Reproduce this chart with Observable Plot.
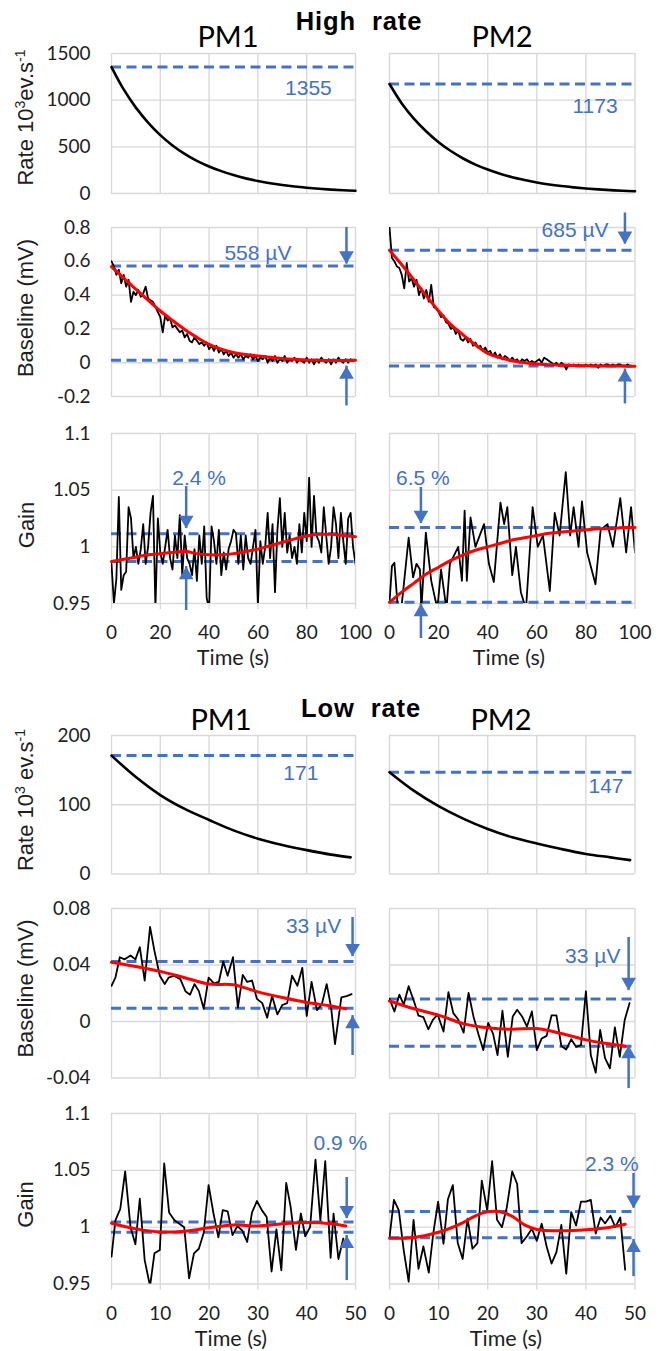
<!DOCTYPE html>
<html><head><meta charset="utf-8">
<script src="https://cdn.jsdelivr.net/npm/d3@7"></script>
<script src="https://cdn.jsdelivr.net/npm/@observablehq/plot@0.6"></script>
<style>
html,body{margin:0;padding:0;background:#fff;}
#root{position:relative;width:662px;height:1351px;overflow:hidden;background:#fff;}
</style></head>
<body><div id="root"></div>
<script>
// ================= DATA =================
// ---- High rate (time in s, 0–100) ----
const hrFitTime = [0,5,10,15,20,25,30,35,40,45,50,55,60,65,70,75,80,85,90,95,100];
const hrRatePM1 = [1355,1115,920,760,625,515,425,350,290,240,197,162,134,110,91,75,62,51,42,35,29];
const hrRatePM2 = [1173,965,800,665,550,455,375,310,257,212,175,145,118,97,80,66,54,44,36,29,24];
const hrRateRef = [1355, 1173];

const hrBaseFitPM1 = [0.568,0.5,0.435,0.37,0.306,0.25,0.197,0.15,0.109,0.08,0.06,0.048,0.04,0.032,0.025,0.02,0.016,0.014,0.013,0.013,0.014];
const hrBaseFitPM2 = [0.665,0.58,0.49,0.395,0.306,0.225,0.165,0.105,0.055,0.03,0.012,0.0,-0.008,-0.012,-0.014,-0.016,-0.018,-0.019,-0.02,-0.02,-0.021];
const hrBaseBandPM1 = [0.572, 0.014];
const hrBaseBandPM2 = [0.665, -0.02];

const hrSampleTime = d3.range(0, 101); // one sample per second
const hrBasePM1 = [0.60,0.57,0.52,0.55,0.47,0.52,0.45,0.49,0.36,0.42,
 0.40,0.43,0.39,0.41,0.45,0.38,0.37,0.36,0.33,0.30,
 0.27,0.18,0.28,0.25,0.26,0.21,0.22,0.20,0.18,0.19,
 0.15,0.17,0.13,0.12,0.15,0.13,0.11,0.12,0.10,0.12,
 0.08,0.10,0.07,0.10,0.06,0.08,0.05,0.07,0.04,0.06,
 0.03,0.05,0.03,0.05,0.02,0.04,0.03,0.05,0.02,0.04,
 0.01,0.03,0.02,0.04,0.00,0.03,0.01,0.04,0.00,0.02,
 0.01,0.04,0.00,0.02,0.01,0.03,0.00,0.02,0.01,0.00,
 0.03,0.00,0.02,-0.01,0.02,0.00,0.03,0.01,0.00,0.02,
 -0.01,0.02,0.00,0.03,0.01,0.00,0.02,0.00,0.02,0.01,
 0.02];
const hrBasePM2 = [0.80,0.62,0.60,0.57,0.56,0.52,0.44,0.59,0.48,0.50,
 0.45,0.49,0.40,0.44,0.38,0.43,0.36,0.46,0.33,0.32,
 0.30,0.27,0.28,0.24,0.23,0.20,0.21,0.17,0.19,0.14,
 0.13,0.15,0.12,0.14,0.10,0.12,0.09,0.10,0.07,0.09,
 0.06,0.07,0.04,0.06,0.03,0.05,0.02,0.04,0.03,0.01,
 0.03,0.01,0.02,0.00,0.02,0.01,0.02,0.00,0.01,0.00,
 0.01,0.02,0.00,0.03,0.02,0.01,0.00,-0.01,0.00,-0.02,
 0.00,-0.01,-0.04,-0.01,-0.02,-0.01,-0.02,-0.01,-0.02,-0.02,
 -0.01,-0.02,-0.01,-0.02,-0.01,-0.03,-0.01,-0.02,-0.01,-0.01,
 -0.02,-0.01,-0.02,-0.01,-0.01,-0.02,-0.02,-0.01,-0.02,-0.02,
 -0.02];

const hrGainFitPM1 = [0.987,0.989,0.991,0.993,0.994,0.995,0.996,0.994,0.993,0.993,0.994,0.996,0.998,1.001,1.004,1.007,1.0095,1.011,1.011,1.010,1.009];
const hrGainFitPM2 = [0.951,0.96,0.968,0.976,0.982,0.988,0.993,0.997,1.0,1.003,1.006,1.008,1.010,1.012,1.013,1.014,1.015,1.016,1.016,1.017,1.017];
const hrGainBandPM1 = [1.0115, 0.987];
const hrGainBandPM2 = [1.017, 0.951];
const hrGainPM1 = [0.985,0.950,0.972,1.044,0.962,0.975,0.978,1.035,1.025,0.990,
 1.000,0.985,0.998,1.020,0.985,1.000,1.030,1.045,0.945,1.025,
 0.995,0.985,1.000,1.015,0.990,0.980,1.010,0.990,1.028,0.975,
 1.010,0.990,0.985,0.975,0.998,0.970,1.010,0.985,1.018,0.955,
 0.945,1.018,1.005,0.985,1.015,0.975,0.995,0.980,0.998,1.005,
 1.015,1.012,0.985,1.010,0.980,1.010,0.990,0.985,1.000,1.015,
 0.948,1.005,0.985,1.000,1.030,0.990,1.020,0.960,1.015,1.043,
 1.000,1.030,0.995,1.010,0.990,1.000,0.985,1.020,0.995,1.030,
 1.005,1.061,1.000,1.045,1.010,1.005,0.995,1.035,1.010,0.985,
 1.000,1.035,1.020,0.990,1.030,1.005,0.985,1.025,1.030,1.000,
 0.985];
const hrGainPM2Time = [0,1,2,3.4,4.8,7.8,9.6,11,12.4,13,14.8,17,19.5,21,23.2,24.6,28,29.5,30.6,31.5,33,35,38.5,40.5,42.5,45.2,46.7,48,50,51.5,53.5,55.6,58.3,60.4,62.5,65.3,67.3,69.3,71.8,73.6,75,77,78.4,80.5,83.9,86,88.8,91,94,96.4,98.4,100];
const hrGainPM2 = [0.951,0.983,0.986,0.945,0.945,1.008,0.973,0.985,0.98,0.945,1.0126,0.97,0.945,0.98,0.945,0.985,1.0,0.97,1.032,0.97,1.026,1.0,1.02,0.985,0.969,1.039,1.02,1.035,0.975,1.0,0.96,0.945,1.035,1.0,1.01,0.961,1.03,1.01,1.066,1.01,1.035,1.0,1.04,0.995,0.967,1.015,1.02,1.0,1.043,0.995,1.035,0.995];

// ---- Low rate (time in s, 0–50) ----
const lrRateTime = [0,5,10,15,20,25,30,35,40,45,49];
const lrRatePM1 = [171,140,114,94,78,63,51,42,34.5,28,24];
const lrRatePM2 = [147,120,98,80,65,53,44,36,29,24,20];
const lrRateRef = [171, 147];

const lrFitTime = [0,5,10,15,20,25,30,35,40,45,48];
const lrBaseFitPM1 = [0.042,0.039,0.0355,0.031,0.0265,0.026,0.021,0.017,0.0135,0.011,0.009];
const lrBaseFitPM2 = [0.0145,0.009,0.0045,-0.0015,-0.0045,-0.0055,-0.005,-0.0085,-0.013,-0.016,-0.0175];
const lrBaseBandPM1 = [0.0425, 0.0094];
const lrBaseBandPM2 = [0.016, -0.0175];
const lrBasePM1Time = [0,0.8,1.7,2.7,3.9,4.9,5.8,6.8,7.9,8.8,9.9,10.9,11.7,12.8,14.1,15.2,16.1,17,17.9,18.9,19.9,21,22,22.9,23.8,24.9,25.9,26.9,27.8,28.8,29.8,30.9,31.9,32.9,34,35,36,37,38.1,39.1,40,41,42.1,43.1,44.1,45,45.8,47.1,48.2,49.2];
const lrBasePM1 = [0.0253,0.031,0.0455,0.044,0.0467,0.044,0.0526,0.029,0.0669,0.050,0.0324,0.0265,0.031,0.0324,0.030,0.0212,0.019,0.0265,0.0215,0.009,0.031,0.027,0.028,0.0425,0.0324,0.0455,0.0098,0.033,0.028,0.029,0.016,0.013,0.0027,0.018,0.005,0.0117,0.013,0.0324,0.0253,0.038,0.0039,0.028,0.008,0.0121,0.0265,0.010,-0.016,0.017,0.018,0.0194];
const lrBasePM2Time = [0,1,2,2.9,3.9,5.1,5.9,6.9,7.9,8.8,9.8,11,12,13,14,15.1,16.1,17.1,18.1,19.1,20.1,21.1,22,23,24.1,25.1,26,27,28,29,30,31,32,33,34,35,36,37,38,39,40,41,42,42.9,43.9,44.9,45.9,46.9,47.9,48.9];
const lrBasePM2 = [0.016,0.0071,0.019,0.012,0.025,0.0131,0.0041,0.0031,-0.0055,0.001,0.005,-0.0071,0.0207,0.0059,0.0014,-0.0079,0.0202,0.0036,-0.0088,-0.0202,-0.001,-0.0088,-0.0238,0.0076,-0.025,0.0036,0.0083,0.0036,-0.0036,0.0071,-0.0202,-0.012,-0.0102,0.0043,0.0043,-0.0174,-0.0198,-0.0126,-0.0179,-0.0167,0.0214,-0.0238,-0.0362,-0.006,-0.026,-0.0331,-0.0041,-0.025,0.001,0.0131];

const lrGainFitPM1 = [1.0035,0.9985,0.9958,0.9965,0.9995,1.002,1.001,1.003,1.004,1.003,1.001];
const lrGainFitPM2Time = [0,5,10,15,17.5,20,22.5,25,27.5,30,35,40,45,48];
const lrGainFitPM2 = [0.9903,0.991,0.9955,1.004,1.010,1.0135,1.0135,1.0095,1.002,0.998,0.9968,0.9978,1.0,1.0025];
const lrGainBandPM1 = [1.0045, 0.9955];
const lrGainBandPM2 = [1.0138, 0.9907];
const lrGainPM1Time = [0,0.8,1.8,2.8,3.9,4.9,5.8,6.8,7.9,8.8,9.9,10.8,11.8,12.9,13.9,14.9,15.9,16.9,17.9,18.9,19.9,20.9,21.9,22.8,23.8,24.8,25.8,26.8,27.8,28.8,29.8,30.8,31.8,32.8,33.8,34.8,35.8,36.7,37.8,38.8,39.7,40.7,41.8,42.8,43.8,44.9,45.5,46.5,47.5];
const lrGainPM1 = [0.974,1.006,1.016,1.049,1.0,0.985,1.025,0.971,0.948,0.977,0.980,1.056,1.013,1.006,1.003,1.0,0.955,0.977,0.981,0.995,1.037,1.012,0.991,1.015,1.014,0.993,1.001,0.997,0.987,1.013,1.023,1.015,1.009,0.961,0.998,0.962,1.039,1.018,0.980,1.012,0.992,1.0,1.0595,1.006,1.058,0.973,1.012,0.972,0.99];
const lrGainPM2Time = [0,0.9,1.9,2.9,3.9,4.9,5.9,6.9,8,8.9,9.9,11,11.9,12.9,13.9,14.9,15.9,16.9,17.9,18.8,19.9,20.9,21.9,22.9,23.9,25,26,26.9,28,29,30,31,32,33,34,35,36,37,38,39,40,41,42,43,43.9,45,46,47,48];
const lrGainPM2 = [0.991,1.024,1.0147,0.9795,0.952,1.0065,0.9634,0.983,0.960,0.994,1.0225,0.9854,1.0246,1.037,0.986,0.972,1.0075,0.981,0.986,1.041,1.0147,1.058,1.0065,1.0,1.0176,1.049,1.038,0.986,0.992,0.9985,0.988,1.003,0.983,0.968,0.978,1.002,0.959,1.0132,1.0015,1.0225,1.0225,1.024,0.9944,1.0085,1.0033,1.01,1.0,1.0085,0.9625];

// ---- Axis ticks ----
const hrTimeTicks = [0,20,40,60,80,100];
const lrTimeTicks = [0,10,20,30,40,50];
const hrRateTicks = [0,500,1000,1500];
const hrBaseTicks = [-0.2,0,0.2,0.4,0.6,0.8];
const gainTicks = [0.95,1,1.05,1.1];
const lrRateTicks = [0,100,200];
const lrBaseTicks = [-0.04,0,0.04,0.08];

// ---- Annotations (labels and arrows, in data units) ----
const noteLabels = {
  hrRatePM1: {x: 80.7, y: 1130, text: "1355"},
  hrRatePM2: {x: 83.7, y: 937, text: "1173"},
  hrBasePM1: {x: 60, y: 0.649, text: "558 µV"},
  hrBasePM2: {x: 75.6, y: 0.782, text: "685 µV"},
  hrGainPM1: {x: 35.9, y: 1.0607, text: "2.4 %"},
  hrGainPM2: {x: 13.6, y: 1.0607, text: "6.5 %"},
  lrRatePM1: {x: 38.8, y: 145.8, text: "171"},
  lrRatePM2: {x: 44.1, y: 126.4, text: "147"},
  lrBasePM1: {x: 41.4, y: 0.0673, text: "33 µV"},
  lrBasePM2: {x: 41.4, y: 0.0464, text: "33 µV"},
  lrGainPM1: {x: 46.9, y: 1.074, text: "0.9 %"},
  lrGainPM2: {x: 45.3, y: 1.0551, text: "2.3 %"}
};
const noteArrows = {
  hrBasePM1: [{x: 96.3, from: 0.8, to: 0.584}, {x: 96.3, from: -0.256, to: -0.02}],
  hrBasePM2: [{x: 95.9, from: 0.886, to: 0.702}, {x: 95.9, from: -0.244, to: -0.037}],
  hrGainPM1: [{x: 30.6, from: 1.0532, to: 1.0162}, {x: 30.6, from: 0.9438, to: 0.9826}],
  hrGainPM2: [{x: 12.8, from: 1.0524, to: 1.0206}, {x: 12.8, from: 0.9191, to: 0.95}],
  lrBasePM1: [{x: 49.4, from: 0.0736, to: 0.046}, {x: 49.4, from: -0.0241, to: 0.0042}],
  lrBasePM2: [{x: 48.7, from: 0.0595, to: 0.022}, {x: 48.7, from: -0.0475, to: -0.017}],
  lrGainPM1: [{x: 48.2, from: 1.0437, to: 1.0076}, {x: 48.2, from: 0.953, to: 0.9927}],
  lrGainPM2: [{x: 49.7, from: 1.0472, to: 1.0167}, {x: 49.7, from: 0.9565, to: 0.9892}]
};

// ================= DRAWING =================
const BLUE = "#4472C4", GRID = "#D9D9D9", RED = "#FF0000", INK = "#1e1e1e";
const root = document.getElementById("root");
const pts = (t, v) => t.map((d, i) => [d, v[i]]);
const fmt = d => String(d);

const dashed = vals => Plot.ruleY(vals, {stroke: BLUE, strokeWidth: 3, strokeDasharray: "10,5.5"});
const decay = (t, v) => Plot.line(pts(t, v), {stroke: "#000", strokeWidth: 2.6, curve: "catmull-rom"});
const noisy = (t, v) => Plot.line(pts(t, v), {stroke: "#000", strokeWidth: 1.8, clip: true});
const fit = (t, v) => Plot.line(pts(t, v), {stroke: RED, strokeWidth: 3, curve: "catmull-rom"});
const label = a => Plot.text([a], {x: "x", y: "y", text: "text", fill: BLUE, fontSize: 21,
  fontFamily: "Liberation Sans, Arial, sans-serif", textAnchor: "middle", lineAnchor: "middle"});
const arrows = list => list.flatMap(a => {
  const down = a.from > a.to;
  return [
    Plot.ruleX([a], {x: "x", y1: "from", y2: "to", stroke: BLUE, strokeWidth: 2.5}),
    Plot.dot([a], {x: "x", y: "to", symbol: "triangle2", r: 7, fill: BLUE, stroke: "none",
      rotate: down ? 180 : 0, dy: down ? -8.4 : 8.4})
  ];
});

function panel(cfg) {
  const mL = 110, mR = 50, mT = 50, mB = 50;
  const W = cfg.x1 - cfg.x0, H = cfg.y1 - cfg.y0;
  const marks = [
    Plot.ruleX(cfg.xTicks, {stroke: GRID, strokeWidth: 1.4}),
    Plot.ruleY(cfg.yTicks, {stroke: GRID, strokeWidth: 1.4})
  ];
  if (cfg.yLabels) marks.push(Plot.axisY(cfg.yTicks, {tickSize: 0, tickPadding: 21, tickFormat: fmt, label: null, color: INK}));
  if (cfg.xLabels) marks.push(Plot.axisX(cfg.xTicks, {tickSize: 6, tickPadding: 16, tickFormat: fmt, label: null, color: INK, stroke: GRID, strokeWidth: 1.4}));
  marks.push(...cfg.marks);
  const svg = Plot.plot({
    width: W + mL + mR, height: H + mT + mB,
    marginLeft: mL, marginRight: mR, marginTop: mT, marginBottom: mB,
    x: {domain: cfg.xDomain, label: null, axis: null},
    y: {domain: cfg.yDomain, label: null, axis: null},
    style: {background: "none", overflow: "visible", fontFamily: "Lato, sans-serif", fontSize: "19px", color: INK},
    marks
  });
  svg.style.position = "absolute";
  svg.style.left = (cfg.x0 - mL) + "px";
  svg.style.top = (cfg.y0 - mT) + "px";
  svg.style.maxWidth = "none";
  root.appendChild(svg);
}

const colL = {x0: 111, x1: 355}, colR = {x0: 388.5, x1: 634};
const hrX = {xDomain: [0, 100], xTicks: hrTimeTicks};
const lrX = {xDomain: [0, 50], xTicks: lrTimeTicks};

// ---- High rate ----
const hrRateRow = {y0: 53, y1: 193, yDomain: [0, 1500], yTicks: hrRateTicks};
panel({...colL, ...hrX, ...hrRateRow, yLabels: true,
  marks: [dashed([hrRateRef[0]]), decay(hrFitTime, hrRatePM1), label(noteLabels.hrRatePM1)]});
panel({...colR, ...hrX, ...hrRateRow,
  marks: [dashed([hrRateRef[1]]), decay(hrFitTime, hrRatePM2), label(noteLabels.hrRatePM2)]});

const hrBaseRow = {y0: 226.5, y1: 395.5, yDomain: [-0.2, 0.8], yTicks: hrBaseTicks};
panel({...colL, ...hrX, ...hrBaseRow, yLabels: true,
  marks: [dashed(hrBaseBandPM1), noisy(hrSampleTime, hrBasePM1), fit(hrFitTime, hrBaseFitPM1),
    label(noteLabels.hrBasePM1), ...arrows(noteArrows.hrBasePM1)]});
panel({...colR, ...hrX, ...hrBaseRow,
  marks: [dashed(hrBaseBandPM2), noisy(hrSampleTime, hrBasePM2), fit(hrFitTime, hrBaseFitPM2),
    label(noteLabels.hrBasePM2), ...arrows(noteArrows.hrBasePM2)]});

const hrGainRow = {y0: 433, y1: 603, yDomain: [0.95, 1.1], yTicks: gainTicks};
panel({...colL, ...hrX, ...hrGainRow, yLabels: true, xLabels: true,
  marks: [dashed(hrGainBandPM1), noisy(hrSampleTime, hrGainPM1), fit(hrFitTime, hrGainFitPM1),
    label(noteLabels.hrGainPM1), ...arrows(noteArrows.hrGainPM1)]});
panel({...colR, ...hrX, ...hrGainRow, xLabels: true,
  marks: [dashed(hrGainBandPM2), noisy(hrGainPM2Time, hrGainPM2), fit(hrFitTime, hrGainFitPM2),
    label(noteLabels.hrGainPM2), ...arrows(noteArrows.hrGainPM2)]});

// ---- Low rate ----
const lrRateRow = {y0: 735, y1: 873.5, yDomain: [0, 200], yTicks: lrRateTicks};
panel({...colL, ...lrX, ...lrRateRow, yLabels: true,
  marks: [dashed([lrRateRef[0]]), decay(lrRateTime, lrRatePM1), label(noteLabels.lrRatePM1)]});
panel({...colR, ...lrX, ...lrRateRow,
  marks: [dashed([lrRateRef[1]]), decay(lrRateTime, lrRatePM2), label(noteLabels.lrRatePM2)]});

const lrBaseRow = {y0: 908, y1: 1077.5, yDomain: [-0.04, 0.08], yTicks: lrBaseTicks};
panel({...colL, ...lrX, ...lrBaseRow, yLabels: true,
  marks: [dashed(lrBaseBandPM1), noisy(lrBasePM1Time, lrBasePM1), fit(lrFitTime, lrBaseFitPM1),
    label(noteLabels.lrBasePM1), ...arrows(noteArrows.lrBasePM1)]});
panel({...colR, ...lrX, ...lrBaseRow,
  marks: [dashed(lrBaseBandPM2), noisy(lrBasePM2Time, lrBasePM2), fit(lrFitTime, lrBaseFitPM2),
    label(noteLabels.lrBasePM2), ...arrows(noteArrows.lrBasePM2)]});

const lrGainRow = {y0: 1113, y1: 1283.5, yDomain: [0.95, 1.1], yTicks: gainTicks};
panel({...colL, ...lrX, ...lrGainRow, yLabels: true, xLabels: true,
  marks: [dashed(lrGainBandPM1), noisy(lrGainPM1Time, lrGainPM1), fit(lrFitTime, lrGainFitPM1),
    label(noteLabels.lrGainPM1), ...arrows(noteArrows.lrGainPM1)]});
panel({...colR, ...lrX, ...lrGainRow, xLabels: true,
  marks: [dashed(lrGainBandPM2), noisy(lrGainPM2Time, lrGainPM2), fit(lrGainFitPM2Time, lrGainFitPM2),
    label(noteLabels.lrGainPM2), ...arrows(noteArrows.lrGainPM2)]});

// ---- Titles and axis titles ----
const ov = d3.select(root).append("svg")
  .attr("width", 662).attr("height", 1351)
  .style("position", "absolute").style("left", "0px").style("top", "0px")
  .style("pointer-events", "none");

function title(x, y, text, opts) {
  ov.append("text").attr("x", x).attr("y", y).attr("text-anchor", "middle")
    .attr("font-family", opts.family).attr("font-size", opts.size)
    .attr("font-weight", opts.weight || null).attr("letter-spacing", opts.spacing || null)
    .attr("fill", opts.fill || "#000").text(text);
}
const bold = {family: "Liberation Sans, Arial, sans-serif", size: 25.5, weight: "bold", spacing: 0.9};
const pm = {family: "Lato, sans-serif", size: 29};
const timeT = {family: "Lato, sans-serif", size: 21.5, fill: INK};

title(359, 30, "High\u00A0\u00A0rate", bold);
title(228, 47, "PM1", pm);
title(502, 47, "PM2", pm);
title(233, 664.5, "Time (s)", timeT);
title(509, 664.5, "Time (s)", timeT);

title(361, 717, "Low\u00A0\u00A0rate", bold);
title(221, 730, "PM1", pm);
title(501, 730, "PM2", pm);
title(231, 1345.5, "Time (s)", timeT);
title(506, 1345.5, "Time (s)", timeT);

function ylabel(x, y, parts) {
  const t = ov.append("text").attr("transform", `translate(${x},${y}) rotate(-90)`)
    .attr("text-anchor", "middle").attr("font-family", "Liberation Sans, Arial, sans-serif")
    .attr("font-size", 22).attr("fill", INK);
  let shift = 0;
  parts.forEach(([s, sup]) => {
    const target = sup ? -8 : 0;
    t.append("tspan").attr("font-size", sup ? 14 : 22).attr("dy", target - shift).text(s);
    shift = target;
  });
}
ylabel(33, 117.5, [["Rate 10"], ["3", true], ["ev.s"], ["-1", true]]);
ylabel(33, 308, [["Baseline (mV)"]]);
ylabel(34, 525, [["Gain"]]);
ylabel(33, 800, [["Rate 10"], ["3", true], [" ev.s"], ["-1", true]]);
ylabel(33, 988.5, [["Baseline (mV)"]]);
ylabel(33, 1204.5, [["Gain"]]);
</script>
</body></html>
